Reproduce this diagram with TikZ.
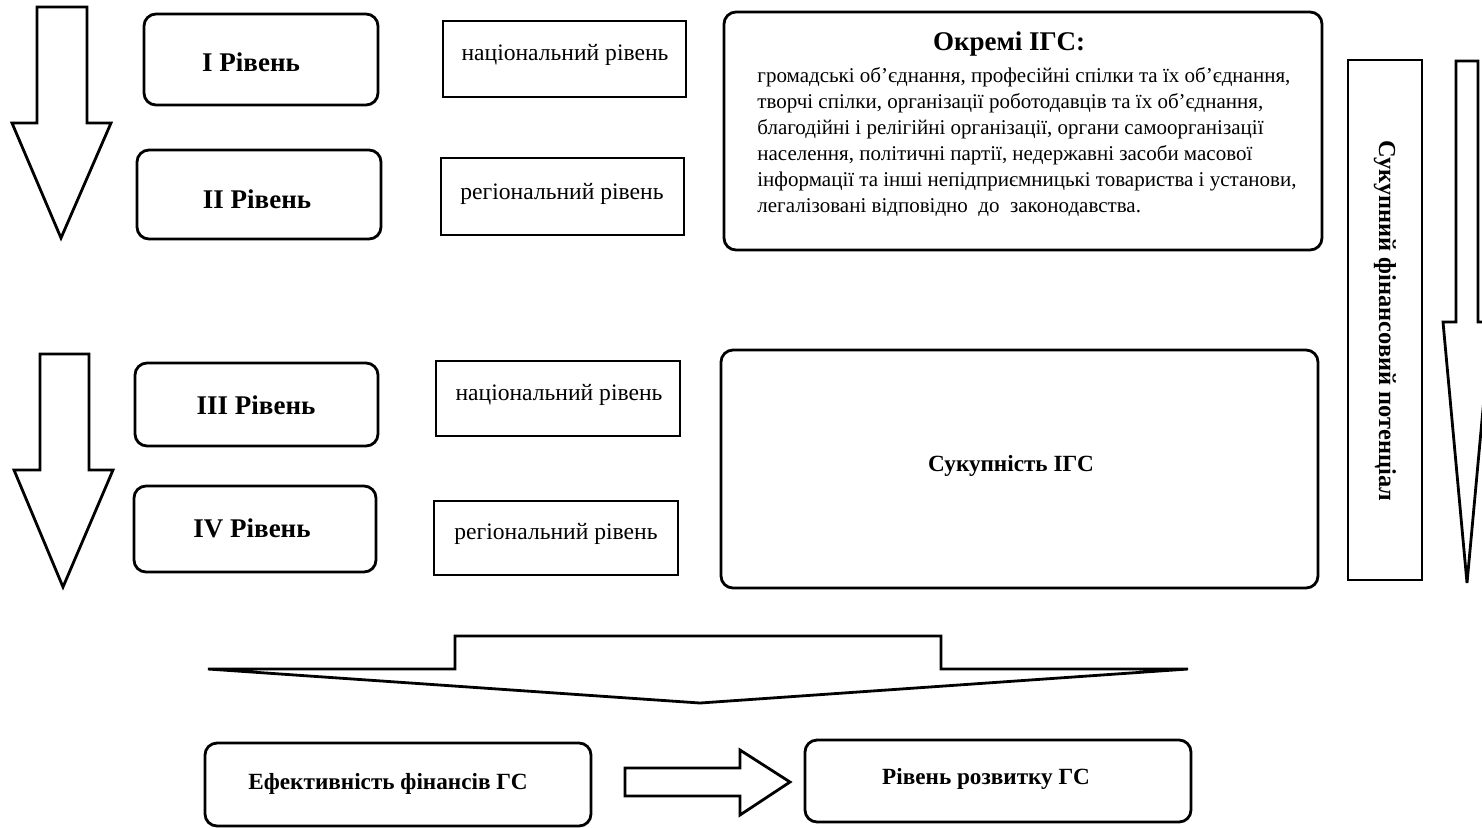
\documentclass[tikz,border=0pt]{standalone}
\usepackage{fontspec}
\setmainfont{LiberationSerif}[Extension=.ttf,UprightFont=*-Regular,BoldFont=*-Bold,ItalicFont=*-Italic,BoldItalicFont=*-BoldItalic]
\begin{document}
\begin{tikzpicture}[x=0.5pt,y=-0.5pt,
  rbox/.style={draw,line width=1.4pt,rounded corners=6pt,inner sep=0pt},
  sbox/.style={draw,line width=1.4pt,inner sep=0pt},
  blk/.style={draw,line width=1.4pt,line join=miter,fill=white},
  lvl/.style={font=\bfseries\fontsize{13.5}{15}\selectfont},
  plain/.style={font=\fontsize{11.8}{13}\selectfont},
  body/.style={font=\fontsize{10.5}{13}\selectfont},
  bold/.style={font=\bfseries\fontsize{11.6}{13}\selectfont}]
\useasboundingbox (0,0) rectangle (1482,827);
\begin{scope}
\clip (0,0) rectangle (1482,827);
% left arrows
\draw[blk] (37,7) -- (87,7) -- (87,123) -- (111,123) -- (61,238) -- (12,123) -- (37,123) -- cycle;
\draw[blk] (40,354) -- (89,354) -- (89,470) -- (113,470) -- (63,587) -- (14,470) -- (40,470) -- cycle;
% right arrow
\draw[blk] (1456,61) -- (1478,61) -- (1478,322) -- (1491,322) -- (1467,583) -- (1443,322) -- (1456,322) -- cycle;
% bottom wide arrow
\draw[blk] (455,636) -- (941,636) -- (941,669) -- (1188,669) -- (700,703) -- (208,669) -- (455,669) -- cycle;
\end{scope}
% level boxes
\node[rbox,minimum width=117pt,minimum height=45.5pt] (l1) at (261,59.5) {};
\node[lvl] (l1t) at (251,62) {І Рівень};
\node[rbox,minimum width=122pt,minimum height=44.5pt] (l2) at (259,194.5) {};
\node[lvl] (l2t) at (257,199) {ІІ Рівень};
\node[rbox,minimum width=121.5pt,minimum height=41.5pt] (l3) at (256.5,404.5) {};
\node[lvl] (l3t) at (256,405) {ІІІ Рівень};
\node[rbox,minimum width=121pt,minimum height=43pt] (l4) at (255,529) {};
\node[lvl] (l4t) at (252,528) {IV Рівень};
% national / regional
\node[sbox,minimum width=121.5pt,minimum height=38pt] (n1) at (564.5,59) {};
\node[plain] (n1t) at (565,55) {національний рівень};
\node[sbox,minimum width=121.5pt,minimum height=38.5pt] (r1) at (562.5,196.5) {};
\node[plain] (r1t) at (562,194) {регіональний рівень};
\node[sbox,minimum width=122pt,minimum height=37.5pt] (n2) at (558,398.5) {};
\node[plain] (n2t) at (559,395) {національний рівень};
\node[sbox,minimum width=122pt,minimum height=37pt] (r2) at (556,538) {};
\node[plain] (r2t) at (556,534) {регіональний рівень};
% big boxes
\node[rbox,minimum width=299pt,minimum height=119pt] (okr) at (1023,131) {};
\node[font=\bfseries\fontsize{13.5}{15}\selectfont] (okrt) at (1009,44) {Окремі ІГС:};
\node[body,align=left,anchor=north west,inner sep=0pt] (okrb) at (757,67) {громадські об’єднання, професійні спілки та їх об’єднання,\\
творчі спілки, організації роботодавців та їх об’єднання,\\
благодійні і релігійні організації, органи самоорганізації\\
населення, політичні партії, недержавні засоби масової\\
інформації та інші непідприємницькі товариства і установи,\\
легалізовані відповідно\ \ до\ \ законодавства.};
\node[rbox,minimum width=298.5pt,minimum height=119pt] (suk) at (1019.5,469) {};
\node[bold] (sukt) at (1011,466) {Сукупність ІГС};
% vertical box
\node[sbox,minimum width=37pt,minimum height=260pt] (pot) at (1385,320) {};
\node[font=\bfseries\fontsize{12.2}{14}\selectfont,rotate=-90] (pott) at (1385,321) {Сукупний фінансовий потенціал};
% bottom boxes
\node[rbox,minimum width=193pt,minimum height=41.5pt] (ef) at (398,784.5) {};
\node[bold] (eft) at (388,784) {Ефективність фінансів ГС};
\node[rbox,minimum width=193pt,minimum height=41pt] (rr) at (998,781) {};
\node[bold] (rrt) at (986,779) {Рівень розвитку ГС};
% small block arrow
\draw[blk] (625,768) -- (740,768) -- (740,750) -- (790,782) -- (740,815) -- (740,796) -- (625,796) -- cycle;
\end{tikzpicture}
\end{document}
